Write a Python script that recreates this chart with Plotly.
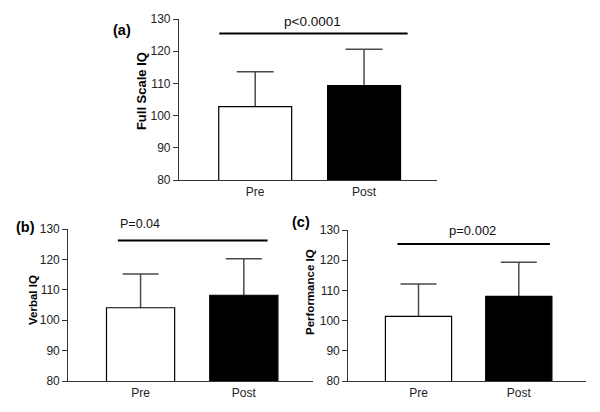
import plotly.graph_objects as go

categories = ["Pre", "Post"]
full_scale_mean = [102.8, 109.3]
full_scale_sd = [10.8, 11.3]
verbal_mean = [104.1, 108.2]
verbal_sd = [11.1, 12.0]
performance_mean = [101.4, 108.0]
performance_sd = [10.7, 11.3]
p_labels = ["p<0.0001", "P=0.04", "p=0.002"]
panel_labels = ["(a)", "(b)", "(c)"]
y_titles = ["Full Scale IQ", "Verbal IQ", "Performance IQ"]
y_ticks = [80, 90, 100, 110, 120, 130]

FONT = "Liberation Sans, Arial, Helvetica, sans-serif"
bar_fill = ["white", "black"]

# page has an 8px body margin; the figure fills the rest of the 600x412 window
W, H, OFF = 592, 404, 8


def px(x):
    return (x - OFF) / W


def py(y):
    return 1 - (y - OFF) / H


fig = go.Figure()

panels = [
    dict(mean=full_scale_mean, sd=full_scale_sd, xa="x", ya="y",
         xdom=[px(179), px(437)], ydom=[py(180), py(19)], width=0.67, cap=18.5,
         sig=(-0.33, 1.40, 125.5), ptxt=(0.53, py(21)), psize=13.5,
         plab=(px(121.7), py(30)), ytx=(px(141.7), py(91.4)), tsize=13),
    dict(mean=verbal_mean, sd=verbal_sd, xa="x2", ya="y2",
         xdom=[px(68.3), px(313)], ydom=[py(381), py(229)], width=0.66, cap=18,
         sig=(-0.22, 1.23, 126.2), ptxt=(-0.01, py(224)), psize=12.5,
         plab=(px(25.5), py(227)), ytx=(px(33), py(300)), tsize=11.5),
    dict(mean=performance_mean, sd=performance_sd, xa="x3", ya="y3",
         xdom=[px(348.3), px(586)], ydom=[py(381), py(230)], width=0.66, cap=18,
         sig=(-0.21, 1.31, 125.4), ptxt=(0.535, py(230)), psize=13,
         plab=(px(301), py(221.5)), ytx=(px(310), py(292)), tsize=11.5),
]

annotations = []
shapes = []
for i, p in enumerate(panels):
    # error bars (lower half hidden behind bars drawn afterwards)
    fig.add_trace(go.Bar(
        x=categories, y=p["mean"], xaxis=p["xa"], yaxis=p["ya"],
        width=p["width"], marker=dict(color="rgba(0,0,0,0)", line=dict(width=0)),
        error_y=dict(type="data", array=p["sd"], symmetric=True,
                     color="#4a4a4a", thickness=1.5, width=p["cap"]),
        showlegend=False, hoverinfo="skip"))
    fig.add_trace(go.Bar(
        x=categories, y=p["mean"], xaxis=p["xa"], yaxis=p["ya"],
        width=p["width"], marker=dict(color=bar_fill, line=dict(color="black", width=1.2)),
        showlegend=False))
    sfx = "" if i == 0 else str(i + 1)
    fig.update_layout(**{
        "xaxis" + sfx: dict(domain=p["xdom"], anchor="y" + sfx, type="category",
                            range=[-0.7, 1.67], showline=True, linecolor="#333",
                            linewidth=1.2, ticks="", showgrid=False, zeroline=False,
                            automargin=False,
                            tickfont=dict(family=FONT, size=12, color="#222")),
        "yaxis" + sfx: dict(domain=p["ydom"], anchor="x" + sfx, range=[80, 130],
                            tickvals=y_ticks, showline=True, linecolor="#333",
                            linewidth=1.2, ticks="outside", ticklen=5, tickwidth=1,
                            tickcolor="#333", showgrid=False, zeroline=False,
                            automargin=False,
                            tickfont=dict(family=FONT, size=12, color="#222")),
    })
    x0, x1, ys = p["sig"]
    shapes.append(dict(type="line", xref=p["xa"], yref=p["ya"], x0=x0, x1=x1,
                       y0=ys, y1=ys, line=dict(color="black", width=2)))
    annotations.append(dict(text=p_labels[i], xref=p["xa"], yref="paper",
                            x=p["ptxt"][0], y=p["ptxt"][1], showarrow=False,
                            font=dict(family=FONT, size=p["psize"], color="#111"),
                            xanchor="center", yanchor="middle"))
    annotations.append(dict(text="<b>" + panel_labels[i] + "</b>", xref="paper", yref="paper",
                            x=p["plab"][0], y=p["plab"][1], showarrow=False,
                            font=dict(family=FONT, size=14.5, color="black"),
                            xanchor="center", yanchor="middle"))
    annotations.append(dict(text="<b>" + y_titles[i] + "</b>", xref="paper", yref="paper",
                            x=p["ytx"][0], y=p["ytx"][1],
                            showarrow=False, textangle=-90,
                            font=dict(family=FONT, size=p["tsize"], color="black"),
                            xanchor="center", yanchor="middle"))

fig.update_layout(
    width=W, height=H, margin=dict(l=0, r=0, t=0, b=0, autoexpand=False),
    barmode="overlay", plot_bgcolor="white", paper_bgcolor="white",
    shapes=shapes, annotations=annotations,
)

fig.write_html("out.html")
